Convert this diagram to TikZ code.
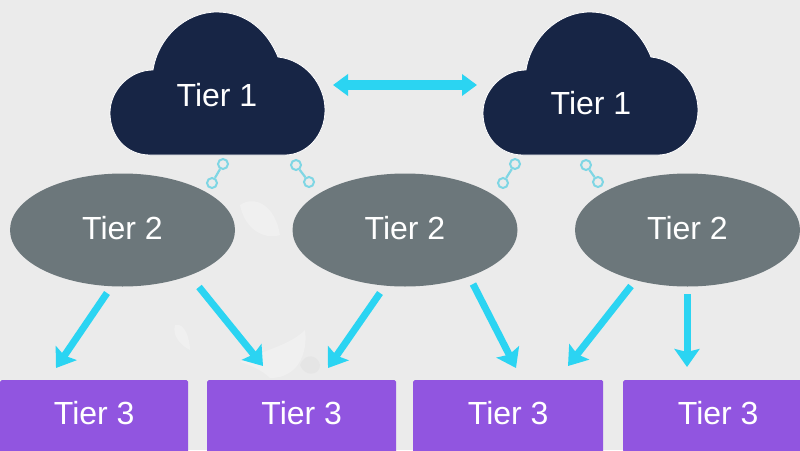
\documentclass[tikz,border=0pt]{standalone}
\usepackage{fontspec}
\setmainfont{Liberation Sans}
\usetikzlibrary{arrows.meta,shapes.geometric}
\definecolor{bgc}{HTML}{EBEBEB}
\definecolor{blotch}{HTML}{F0F0F0}
\definecolor{blotchd}{HTML}{E5E5E5}
\definecolor{navy}{HTML}{172545}
\definecolor{slate}{HTML}{6C777B}
\definecolor{violet}{HTML}{9155E0}
\definecolor{cyanc}{HTML}{2BD4F2}
\definecolor{linkc}{HTML}{7FD6E4}
\tikzset{
  x=1pt,y=-1pt,
  cloudshape/.style={fill=navy,draw=white,line width=0.8pt},
  oval/.style={ellipse,fill=slate,minimum width=225pt,minimum height=113pt,inner sep=0pt,text=white,font=\fontsize{32}{36}\selectfont},
  tierbox/.style={fill=violet,rounded corners=1.5pt,inner sep=0pt,anchor=north west,minimum height=72pt,text=white,font=\fontsize{32}{36}\selectfont},
  cloudlabel/.style={text=white,inner sep=0pt,font=\fontsize{32}{36}\selectfont},
  flow/.style={draw=cyanc,line width=7pt,-{Stealth[length=18pt,width=25pt,inset=3pt]}},
  both/.style={draw=cyanc,line width=10pt,{Triangle[length=15pt,width=21pt]}-{Triangle[length=15pt,width=21pt]}},
  ring/.style={circle,draw=linkc,line width=2pt,minimum size=10pt,inner sep=0pt},
  linkline/.style={draw=linkc,line width=2.2pt},
}
\newcommand{\cloudpath}{
  (150,155) .. controls (125,155) and (110,135) .. (110,113)
  .. controls (110,90) and (130,70) .. (153,70)
  .. controls (158,38) and (185,12) .. (217,12)
  .. controls (247,12) and (268,32) .. (278,57)
  .. controls (306,60) and (325,85) .. (325,110)
  .. controls (325,136) and (306,155) .. (285,155) -- cycle
}
\begin{document}
\begin{tikzpicture}
\useasboundingbox (0,0) rectangle (800,450);
\fill[bgc] (0,0) rectangle (800,450);
% watercolour blotches of the backdrop
\fill[blotch] (240,205) .. controls (255,195) and (275,205) .. (280,235) .. controls (265,240) and (245,230) .. cycle;
\fill[blotch] (175,325) .. controls (185,322) and (190,340) .. (190,350) .. controls (180,345) and (172,335) .. cycle;
\fill[blotch] (240,362) .. controls (265,350) and (290,345) .. (305,330) .. controls (308,350) and (300,378) .. (270,378) .. controls (262,370) and (250,365) .. cycle;
\fill[blotchd] (300,365) .. controls (305,352) and (318,355) .. (320,365) .. controls (320,375) and (305,378) .. cycle;

\path[cloudshape] \cloudpath;
\begin{scope}[xshift=373pt]
\path[cloudshape] \cloudpath;
\end{scope}
\node[cloudlabel] (c1) at (217,95) {Tier 1};
\node[cloudlabel] (c2) at (591,103) {Tier 1};

\node[oval] (o1) at (122.5,230) {\raisebox{5pt}{Tier 2}};
\node[oval] (o2) at (405,230) {\raisebox{5pt}{Tier 2}};
\node[oval] (o3) at (687.5,230) {\raisebox{5pt}{Tier 2}};

\node[tierbox,minimum width=188pt] (b1) at (0,380) {\raisebox{6pt}{Tier 3}};
\node[tierbox,minimum width=189pt] (b2) at (207,380) {\raisebox{6pt}{Tier 3}};
\node[tierbox,minimum width=190pt] (b3) at (413,380) {\raisebox{6pt}{Tier 3}};
\node[tierbox,minimum width=190pt] (b4) at (623,380) {\raisebox{6pt}{Tier 3}};

% connector ends
\coordinate (d0a) at (333,85);
\coordinate (d0b) at (477,85);
\draw[both] (d0a) -- (d0b);

\coordinate (a1s) at (107,293); \coordinate (a1e) at (56,368);
\coordinate (a2s) at (199,287); \coordinate (a2e) at (263,366);
\coordinate (a3s) at (380,293); \coordinate (a3e) at (328,368);
\coordinate (a4s) at (473,284); \coordinate (a4e) at (516,368);
\coordinate (a5s) at (631,286); \coordinate (a5e) at (568,366);
\coordinate (a6s) at (687,294); \coordinate (a6e) at (687,367);
\foreach \n in {1,...,6} \draw[flow] (a\n s) -- (a\n e);

% small link icons
\node[ring] (r1a) at (223,164) {}; \node[ring] (r1b) at (212,183) {};
\node[ring] (r2a) at (296,165) {}; \node[ring] (r2b) at (309,182) {};
\node[ring] (r3a) at (515,164) {}; \node[ring] (r3b) at (503,183) {};
\node[ring] (r4a) at (586,165) {}; \node[ring] (r4b) at (598,182) {};
\foreach \n in {1,...,4} \draw[linkline] (r\n a) -- (r\n b);
\end{tikzpicture}
\end{document}
